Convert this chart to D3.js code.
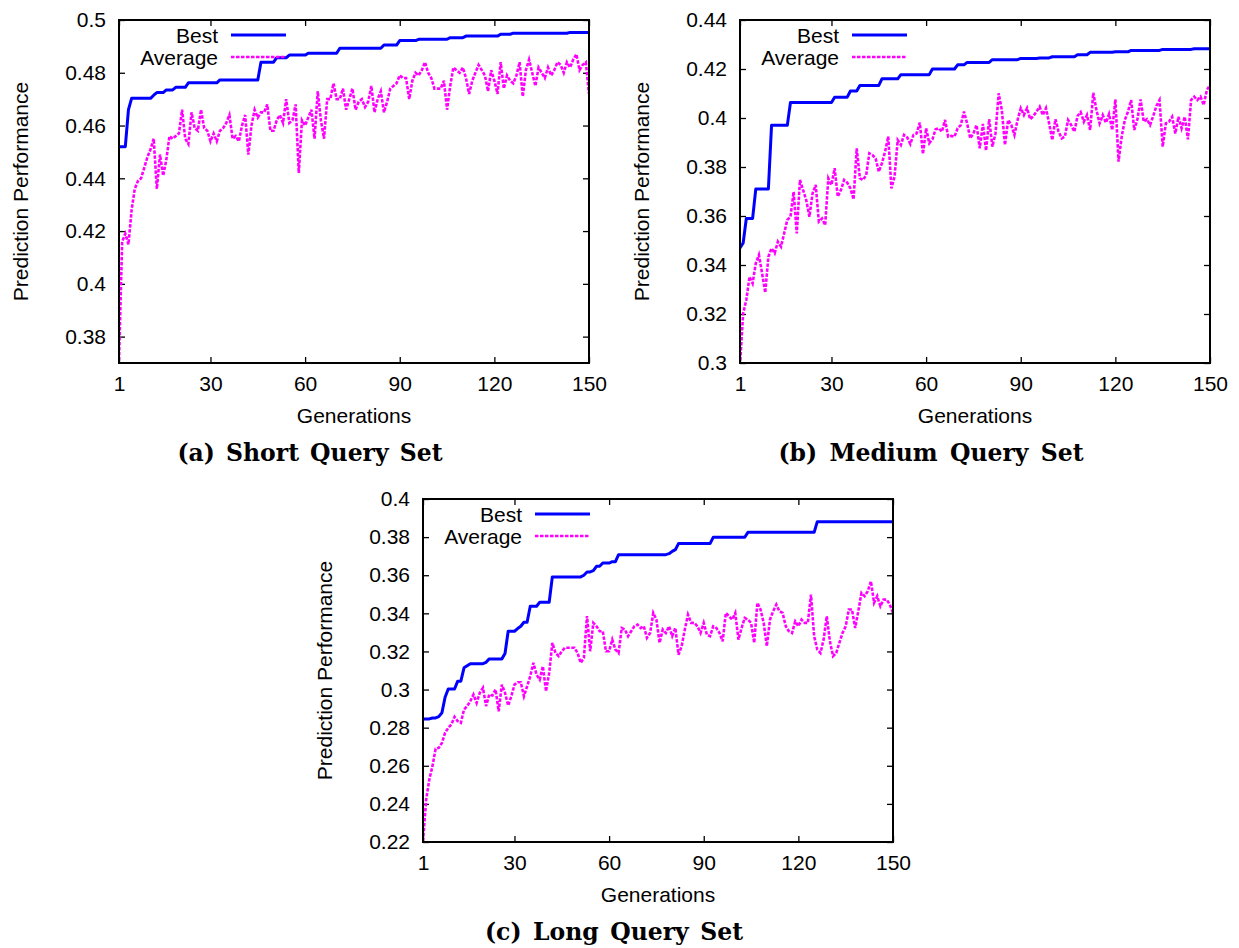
<!DOCTYPE html>
<html><head><meta charset="utf-8">
<script src="https://cdn.jsdelivr.net/npm/d3@7"></script>
<style>body{margin:0;background:#fff}svg{display:block}</style>
</head><body>
<svg id="chart" width="1239" height="948"></svg>
<script>
// ---------- data ----------
const generations = d3.range(1, 151);
const xTicks = [1, 30, 60, 90, 120, 150];
const seriesNames = ["Best", "Average"];

const shortYTicks = [0.38, 0.40, 0.42, 0.44, 0.46, 0.48, 0.50];
const mediumYTicks = [0.30, 0.32, 0.34, 0.36, 0.38, 0.40, 0.42, 0.44];
const longYTicks = [0.22, 0.24, 0.26, 0.28, 0.30, 0.32, 0.34, 0.36, 0.38, 0.40];

const shortBest = [
 0.452,0.452,0.452,0.466,0.4703,0.4703,0.4703,0.4703,0.4703,0.4703,
 0.4703,0.4715,0.4725,0.4725,0.4725,0.4735,0.4735,0.4735,0.4745,0.4745,
 0.4745,0.4745,0.4762,0.4762,0.4762,0.4762,0.4762,0.4762,0.4762,0.4762,
 0.4762,0.4762,0.4773,0.4773,0.4773,0.4773,0.4773,0.4773,0.4773,0.4773,
 0.4773,0.4773,0.4773,0.4773,0.4773,0.484,0.484,0.484,0.484,0.484,
 0.4857,0.4857,0.4857,0.4857,0.4867,0.4867,0.4867,0.4867,0.4867,0.4867,
 0.4874,0.4874,0.4874,0.4874,0.4874,0.4874,0.4874,0.4874,0.4874,0.4874,
 0.4893,0.4893,0.4893,0.4893,0.4893,0.4893,0.4893,0.4893,0.4893,0.4893,
 0.4893,0.4893,0.4893,0.4893,0.4905,0.4905,0.4905,0.4905,0.4905,0.4922,
 0.4922,0.4922,0.4922,0.4922,0.4922,0.4927,0.4927,0.4927,0.4927,0.4927,
 0.4927,0.4927,0.4927,0.4927,0.4927,0.4933,0.4933,0.4933,0.4933,0.4933,
 0.4939,0.4939,0.4939,0.4939,0.4939,0.4939,0.4939,0.4939,0.4939,0.4939,
 0.4939,0.4946,0.4946,0.4946,0.4946,0.495,0.495,0.495,0.495,0.495,
 0.495,0.495,0.495,0.495,0.495,0.495,0.495,0.495,0.495,0.495,
 0.495,0.495,0.495,0.4953,0.4953,0.4953,0.4953,0.4953,0.4953,0.4953
];
const shortAverage = [
 0.371,0.416,0.419,0.415,0.428,0.436,0.439,0.440,0.444,0.448,
 0.451,0.455,0.436,0.449,0.441,0.447,0.456,0.455,0.456,0.457,
 0.466,0.455,0.453,0.465,0.459,0.458,0.466,0.459,0.458,0.454,
 0.457,0.454,0.458,0.459,0.461,0.464,0.455,0.456,0.454,0.460,
 0.464,0.449,0.460,0.466,0.463,0.465,0.465,0.468,0.458,0.458,
 0.462,0.464,0.461,0.470,0.461,0.462,0.468,0.442,0.462,0.460,
 0.463,0.466,0.455,0.473,0.462,0.455,0.470,0.470,0.476,0.470,
 0.470,0.474,0.466,0.470,0.474,0.466,0.469,0.470,0.467,0.469,
 0.475,0.465,0.470,0.473,0.465,0.469,0.474,0.475,0.476,0.479,
 0.478,0.478,0.470,0.477,0.480,0.479,0.481,0.484,0.480,0.478,
 0.474,0.474,0.474,0.477,0.466,0.475,0.482,0.481,0.480,0.482,
 0.478,0.472,0.477,0.480,0.483,0.481,0.479,0.473,0.481,0.477,
 0.472,0.484,0.474,0.479,0.477,0.476,0.479,0.484,0.471,0.481,
 0.485,0.480,0.475,0.482,0.480,0.478,0.482,0.479,0.481,0.484,
 0.483,0.480,0.484,0.482,0.485,0.487,0.481,0.483,0.484,0.472
];

const mediumBest = [
 0.347,0.349,0.359,0.359,0.359,0.371,0.371,0.371,0.371,0.371,
 0.397,0.397,0.397,0.397,0.397,0.397,0.4063,0.4063,0.4063,0.4063,
 0.4063,0.4063,0.4063,0.4063,0.4063,0.4063,0.4063,0.4063,0.4063,0.4063,
 0.4085,0.4085,0.4085,0.4085,0.4085,0.411,0.411,0.411,0.4133,0.4133,
 0.4133,0.4133,0.4133,0.4133,0.4133,0.416,0.416,0.416,0.416,0.416,
 0.416,0.4177,0.4177,0.4177,0.4177,0.4177,0.4177,0.4177,0.4177,0.4177,
 0.4177,0.42,0.42,0.42,0.42,0.42,0.42,0.42,0.42,0.4217,
 0.4217,0.4217,0.4227,0.4227,0.4227,0.4227,0.4227,0.4227,0.4227,0.4227,
 0.4238,0.4238,0.4238,0.4238,0.4238,0.4238,0.4238,0.4238,0.4238,0.4243,
 0.4243,0.4243,0.4243,0.4243,0.4243,0.4245,0.4245,0.4245,0.4245,0.425,
 0.425,0.425,0.425,0.425,0.425,0.425,0.425,0.4258,0.4258,0.4258,
 0.4258,0.4268,0.4268,0.4268,0.4268,0.4268,0.4268,0.4268,0.4268,0.427,
 0.427,0.427,0.427,0.427,0.4276,0.4276,0.4276,0.4276,0.4276,0.4276,
 0.4276,0.4276,0.4276,0.4276,0.428,0.428,0.428,0.428,0.428,0.428,
 0.428,0.428,0.428,0.428,0.4283,0.4283,0.4283,0.4283,0.4283,0.4283
];
const mediumAverage = [
 0.299,0.3203,0.3257,0.3352,0.3325,0.3407,0.3441,0.3366,0.3287,0.3434,
 0.3468,0.3448,0.3495,0.3475,0.3529,0.3584,0.3597,0.3699,0.3529,0.3747,
 0.3706,0.3665,0.3597,0.3692,0.3727,0.3577,0.359,0.3563,0.3754,0.3727,
 0.3795,0.3679,0.3706,0.3747,0.3736,0.3713,0.3668,0.3876,0.3754,0.3747,
 0.3767,0.3856,0.3849,0.3835,0.3781,0.3815,0.3863,0.3924,0.3713,0.3761,
 0.391,0.389,0.3931,0.3921,0.3894,0.3931,0.3937,0.3981,0.3853,0.3958,
 0.3897,0.3913,0.3954,0.3958,0.3944,0.3992,0.3924,0.3927,0.3924,0.3958,
 0.3971,0.4026,0.3978,0.3917,0.3937,0.3971,0.3876,0.3976,0.3867,0.3995,
 0.3883,0.3937,0.4101,0.4033,0.389,0.3992,0.3971,0.3931,0.3992,0.404,
 0.4012,0.404,0.3995,0.4008,0.4026,0.4046,0.4012,0.404,0.3978,0.391,
 0.3995,0.3944,0.3917,0.3924,0.3992,0.3971,0.3944,0.4008,0.4024,0.3985,
 0.4012,0.3951,0.4103,0.4033,0.3978,0.4012,0.3981,0.4016,0.3951,0.4076,
 0.3822,0.3924,0.3992,0.4026,0.4073,0.3951,0.3995,0.4076,0.3985,0.3995,
 0.3971,0.4008,0.4049,0.4073,0.3883,0.3978,0.3985,0.4005,0.3937,0.4005,
 0.3958,0.4005,0.3913,0.4073,0.4087,0.4073,0.4087,0.4053,0.4114,0.4135
];

const longBest = [
 0.2846,0.2846,0.2846,0.2851,0.2851,0.2858,0.2878,0.296,0.3003,0.3003,
 0.3003,0.3044,0.3044,0.3114,0.3125,0.3136,0.3136,0.3136,0.3136,0.3136,
 0.3143,0.3161,0.3161,0.3161,0.3161,0.3161,0.3189,0.3306,0.3306,0.3306,
 0.332,0.3332,0.3353,0.3353,0.3437,0.3437,0.3437,0.3458,0.3458,0.3458,
 0.3458,0.3591,0.3591,0.3591,0.3591,0.3591,0.3591,0.3591,0.3591,0.3591,
 0.3591,0.36,0.3617,0.3617,0.3624,0.3647,0.3647,0.3664,0.3664,0.3664,
 0.3671,0.3671,0.3708,0.3708,0.3708,0.3708,0.3708,0.3708,0.3708,0.3708,
 0.3708,0.3708,0.3708,0.3708,0.3708,0.3708,0.3708,0.3708,0.3713,0.3725,
 0.3734,0.3766,0.3766,0.3766,0.3766,0.3766,0.3766,0.3766,0.3766,0.3766,
 0.3766,0.3766,0.3799,0.3799,0.3799,0.3799,0.3799,0.3799,0.3799,0.3799,
 0.3799,0.3799,0.3799,0.3825,0.3825,0.3825,0.3825,0.3825,0.3825,0.3825,
 0.3825,0.3825,0.3825,0.3825,0.3825,0.3825,0.3825,0.3825,0.3825,0.3825,
 0.3825,0.3825,0.3825,0.3825,0.3825,0.3881,0.3881,0.3881,0.3881,0.3881,
 0.3881,0.3881,0.3881,0.3881,0.3881,0.3881,0.3881,0.3881,0.3881,0.3881,
 0.3881,0.3881,0.3881,0.3881,0.3881,0.3881,0.3881,0.3881,0.3881,0.3881
];
const longAverage = [
 0.2204,0.2423,0.2528,0.2598,0.2689,0.2694,0.272,0.2773,0.2799,0.2817,
 0.2857,0.2834,0.2825,0.2895,0.2913,0.2939,0.2974,0.293,0.2983,0.3009,
 0.2913,0.2974,0.2969,0.300,0.2886,0.3026,0.2983,0.2916,0.2965,0.3026,
 0.3038,0.3038,0.2965,0.3017,0.307,0.314,0.3078,0.3052,0.3122,0.2991,
 0.3087,0.3245,0.3192,0.3175,0.3201,0.3219,0.3219,0.3219,0.3219,0.3192,
 0.314,0.3166,0.3385,0.3201,0.335,0.3332,0.3306,0.3306,0.3201,0.3201,
 0.3262,0.321,0.3192,0.3323,0.3315,0.328,0.3306,0.3332,0.3341,0.3323,
 0.3332,0.3271,0.3297,0.3402,0.3367,0.3245,0.3315,0.3297,0.3332,0.328,
 0.3323,0.3183,0.3227,0.3315,0.3393,0.335,0.335,0.3332,0.3297,0.335,
 0.3288,0.328,0.3332,0.3323,0.3297,0.3253,0.3402,0.3385,0.3367,0.3402,
 0.3262,0.3323,0.3376,0.3367,0.335,0.3245,0.3455,0.342,0.335,0.3227,
 0.3367,0.3411,0.3446,0.3411,0.3402,0.3332,0.3306,0.3297,0.3358,0.3332,
 0.3367,0.335,0.335,0.3498,0.328,0.321,0.3192,0.3262,0.3385,0.3253,
 0.3175,0.3192,0.3245,0.3297,0.3332,0.342,0.342,0.3323,0.3411,0.3507,
 0.349,0.3516,0.3568,0.3455,0.349,0.3437,0.3472,0.3472,0.3446,0.3402
];

// ---------- layout ----------
const panels = [
  {best: shortBest, avg: shortAverage, yDomain: [0.37, 0.5], yTicks: shortYTicks,
   left: 119, top: 20, caption: "(a) Short Query Set", capW: 265},
  {best: mediumBest, avg: mediumAverage, yDomain: [0.3, 0.44], yTicks: mediumYTicks,
   left: 740, top: 20, caption: "(b) Medium Query Set", capW: 305},
  {best: longBest, avg: longAverage, yDomain: [0.22, 0.4], yTicks: longYTicks,
   left: 423, top: 499, caption: "(c) Long Query Set", capW: 258}
];
const W = 470, H = 343;
const FONT = "'Liberation Sans', Arial, Helvetica, sans-serif";
const BLUE = "#0000ff", MAGENTA = "#ff00ff";

const svg = d3.select("#chart");
const fmt = d3.format("~g");

panels.forEach((p, i) => {
  const g = svg.append("g").attr("transform", `translate(${p.left},${p.top})`);
  const x = d3.scaleLinear().domain([1, 150]).range([0, W]);
  const y = d3.scaleLinear().domain(p.yDomain).range([H, 0]);

  const clipId = "clip" + i;
  g.append("clipPath").attr("id", clipId).append("rect")
    .attr("x", 0).attr("y", 0).attr("width", W).attr("height", H);

  const styleAxis = sel => {
    sel.selectAll(".domain").remove();
    sel.selectAll(".tick line").attr("stroke", "#000").attr("stroke-width", 1.3);
    sel.selectAll(".tick text").attr("font-family", FONT).attr("font-size", 21).attr("fill", "#000");
  };
  g.append("g").call(d3.axisLeft(y).tickValues(p.yTicks).tickFormat(fmt).tickSize(-6).tickPadding(13))
    .call(styleAxis);
  g.append("g").attr("transform", `translate(${W},0)`)
    .call(d3.axisRight(y).tickValues(p.yTicks).tickFormat("").tickSize(-6)).call(styleAxis);
  g.append("g").attr("transform", `translate(0,${H})`)
    .call(d3.axisBottom(x).tickValues(xTicks).tickFormat(d3.format("d")).tickSize(-6).tickPadding(13))
    .call(styleAxis);
  g.append("g").call(d3.axisTop(x).tickValues(xTicks).tickFormat("").tickSize(-6)).call(styleAxis);

  const line = d3.line().x((d, k) => x(generations[k])).y(d => y(d));
  const plot = g.append("g").attr("clip-path", `url(#${clipId})`);
  plot.append("path").datum(p.best).attr("d", line)
    .attr("fill", "none").attr("stroke", BLUE).attr("stroke-width", 3).attr("stroke-linejoin", "round");
  plot.append("path").datum(p.avg).attr("d", line)
    .attr("fill", "none").attr("stroke", MAGENTA).attr("stroke-width", 2.6)
    .attr("stroke-dasharray", "3.5,1.5");

  g.append("rect").attr("x", 0).attr("y", 0).attr("width", W).attr("height", H)
    .attr("fill", "none").attr("stroke", "#000").attr("stroke-width", 2);

  const leg = g.append("g");
  seriesNames.forEach((name, k) => {
    const ly = 15 + k * 22;
    leg.append("text").attr("x", 99).attr("y", ly).attr("dy", "0.36em")
      .attr("text-anchor", "end").attr("font-family", FONT).attr("font-size", 21)
      .attr("fill", "#000").text(name);
    leg.append("line").attr("x1", 112).attr("x2", 167).attr("y1", ly).attr("y2", ly)
      .attr("stroke", k === 0 ? BLUE : MAGENTA).attr("stroke-width", k === 0 ? 3 : 2.6)
      .attr("stroke-dasharray", k === 0 ? null : "3.5,1.5");
  });

  g.append("text").attr("x", W / 2).attr("y", H + 60).attr("text-anchor", "middle")
    .attr("font-family", FONT).attr("font-size", 21).attr("fill", "#000").text("Generations");
  g.append("text").attr("transform", `translate(-91,${H / 2}) rotate(-90)`)
    .attr("text-anchor", "middle").attr("font-family", FONT).attr("font-size", 21)
    .attr("fill", "#000").text("Prediction Performance");

  // caption: tight letters, wider word gaps (fit measured width)
  const cap = g.append("text").attr("x", W / 2 - 44).attr("y", H + 98).attr("text-anchor", "middle")
    .attr("font-family", "'DejaVu Serif', serif").attr("font-weight", "bold").attr("font-size", 23.5)
    .attr("fill", "#000").text(p.caption);
  const natural = cap.node().getComputedTextLength();
  const spaces = p.caption.split(" ").length - 1;
  const extra = (p.capW - natural) / spaces;
  cap.attr("word-spacing", Math.max(0, extra));
});
</script>
</body></html>
